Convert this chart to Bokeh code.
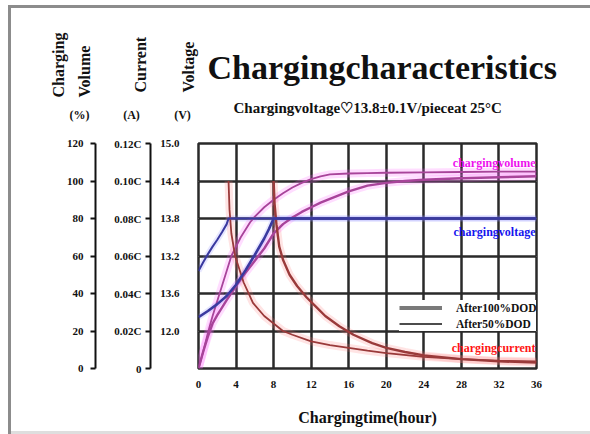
import math
from bokeh.plotting import figure
from bokeh.layouts import column
from bokeh.models import Range1d, LinearAxis, FixedTicker, Grid, Label, Legend, LegendItem
from bokeh.core.properties import value
from bokeh.embed import file_html
from bokeh.resources import INLINE

# ---------------- data ----------------
hour_ticks = [0, 4, 8, 12, 16, 20, 24, 28, 32, 36]
volume_ticks = [0, 20, 40, 60, 80, 100, 120]
volume_tick_labels = ["0", "20", "40", "60", "80", "100", "120"]
current_ticks = [0, 0.02, 0.04, 0.06, 0.08, 0.10, 0.12]
current_tick_labels = ["0", "0.02C", "0.04C", "0.06C", "0.08C", "0.10C", "0.12C"]
voltage_ticks = [12.0, 12.6, 13.2, 13.8, 14.4, 15.0]
voltage_tick_labels = ["12.0", "13.6", "13.2", "13.8", "14.4", "15.0"]

# charging volume (%)
hours_vol50 = [0, 0.5, 1, 1.5, 2, 2.5, 3, 3.5, 4, 4.5, 5, 5.5, 6, 7, 8, 9, 10, 11, 12, 13, 14, 16, 18, 20, 24, 28, 32, 36]
vol50 = [0, 9, 19, 28, 36, 44, 52, 60, 65, 70, 74, 78, 81, 86, 90, 93.5, 96.5, 99, 101, 102.5, 103.5, 104, 104.2, 104.4, 104.6, 104.8, 105, 105]
hours_vol100 = [0, 0.5, 1, 1.5, 2, 3, 4, 5, 6, 7, 8, 9, 10, 11, 12, 13, 14, 16, 18, 20, 22, 24, 28, 32, 36]
vol100 = [0, 9, 17, 24, 28.5, 36.5, 44, 51, 57.5, 64, 72, 77, 80.5, 83.5, 86, 88.5, 90.5, 94.5, 97.5, 99, 100, 100.7, 101.5, 102, 102.5]

# charging voltage (V)
hours_volt50 = [0, 0.5, 1, 1.5, 2, 2.5, 3, 3.2, 36]
volt50 = [12.96, 13.1, 13.23, 13.35, 13.46, 13.58, 13.71, 13.8, 13.8]
hours_volt100 = [0, 1, 2, 3, 4, 5, 6, 7, 7.5, 8, 36]
volt100 = [12.22, 12.32, 12.43, 12.56, 12.74, 12.97, 13.22, 13.48, 13.63, 13.8, 13.8]

# charging current (C), from the end of the constant-current phase
hours_cur50 = [3.2, 3.3, 3.5, 3.9, 4.8, 5.8, 7, 8, 9, 10, 12, 14, 16, 18, 20, 24, 28, 32, 36]
cur50 = [0.10, 0.085, 0.072, 0.060, 0.046, 0.035, 0.028, 0.024, 0.020, 0.018, 0.0145, 0.0125, 0.011, 0.0095, 0.0082, 0.0062, 0.005, 0.0042, 0.0038]
hours_cur100 = [8.0, 8.1, 8.3, 8.6, 9.0, 9.7, 10.5, 11.5, 12.5, 13.5, 15, 16.5, 18.5, 20, 22, 24, 28, 32, 36]
cur100 = [0.10, 0.088, 0.077, 0.065, 0.058, 0.050, 0.044, 0.038, 0.033, 0.028, 0.0225, 0.018, 0.0135, 0.011, 0.0088, 0.007, 0.005, 0.0038, 0.0032]

SERIF = "Liberation Serif"
TOP_H = 128


def no_align(fig):
    try:
        fig.frame_align = False
    except Exception:
        pass


# ---------------- header figure (titles) ----------------
top = figure(width=590, height=TOP_H, x_range=Range1d(0, 590), y_range=Range1d(TOP_H, 0),
             output_backend="svg", toolbar_location=None, min_border=0,
             x_axis_location=None, y_axis_location=None)
no_align(top)
top.grid.visible = False
top.outline_line_color = None
top.background_fill_color = None
top.border_fill_color = None

top.text(x=[207], y=[67], text=["Chargingcharacteristics"], text_font=value(SERIF),
         text_font_style="bold", text_font_size=value("34px"), text_color="#111111",
         text_baseline="middle", text_align="left")
top.text(x=[233], y=[107], text=["Chargingvoltage\u266113.8\u00b10.1V/pieceat 25\u00b0C"],
         text_font=value(SERIF), text_font_style="bold", text_font_size=value("15px"),
         text_color="#111111", text_baseline="middle", text_align="left")
top.text(x=[58, 84, 140, 188], y=[97, 97, 92, 92], text=["Charging", "Volume", "Current", "Voltage"],
         angle=math.pi / 2, text_font=value(SERIF), text_font_style="bold",
         text_font_size=value("16px"), text_color="#111111",
         text_baseline="middle", text_align="left")
top.text(x=[79, 131, 182], y=[114, 114, 114], text=["(%)", "(A)", "(V)"],
         text_font=value(SERIF), text_font_style="bold", text_font_size=value("12px"),
         text_color="#111111", text_baseline="middle", text_align="center")

# ---------------- main figure ----------------
p = figure(width=590, height=434 - TOP_H, x_range=Range1d(0, 36), y_range=Range1d(0, 120),
           output_backend="svg", toolbar_location=None, y_axis_location=None,
           min_border_left=198, min_border_right=54, min_border_top=143 - TOP_H, min_border_bottom=66)
no_align(p)
p.extra_y_ranges = {"cur": Range1d(0, 0.12), "volt": Range1d(11.4, 15.0)}
p.background_fill_color = "white"
p.border_fill_color = None
p.outline_line_color = "#2a2a2a"
p.outline_line_width = 2.5

# grid
p.xgrid.ticker = FixedTicker(ticks=hour_ticks)
p.xgrid.grid_line_color = "#2a2a2a"
p.xgrid.grid_line_width = 2.5
yg = Grid(dimension=1, ticker=FixedTicker(ticks=volume_ticks),
          grid_line_color="#2a2a2a", grid_line_width=2.5)
p.add_layout(yg)

# x axis
xa = p.xaxis[0]
xa.ticker = FixedTicker(ticks=hour_ticks)
xa.axis_line_color = None
xa.major_tick_line_color = None
xa.minor_tick_line_color = None
xa.major_tick_out = 0
xa.major_tick_in = 0
xa.major_label_standoff = 12
xa.major_label_text_font = SERIF
xa.major_label_text_font_style = "bold"
xa.major_label_text_font_size = "11px"
xa.major_label_text_color = "#111111"
xa.axis_label = "Chargingtime(hour)"
xa.axis_label_text_font = SERIF
xa.axis_label_text_font_style = "bold"
xa.axis_label_text_font_size = "16px"
xa.axis_label_text_color = "#111111"
xa.axis_label_standoff = 18


def style_left(ax):
    ax.major_label_text_font = SERIF
    ax.major_label_text_font_style = "bold"
    ax.major_label_text_font_size = "11px"
    ax.major_label_text_color = "#111111"
    ax.minor_tick_line_color = None


va = LinearAxis(y_range_name="volt", ticker=FixedTicker(ticks=voltage_ticks),
                major_label_overrides=dict(zip(voltage_ticks, voltage_tick_labels)))
style_left(va)
va.axis_line_color = None
va.major_tick_line_color = None
va.major_tick_out = 0
va.major_tick_in = 0
va.major_label_standoff = 19
va.axis_label = " "
va.axis_label_standoff = 3
va.axis_label_text_font_size = "1px"

ca = LinearAxis(y_range_name="cur", ticker=FixedTicker(ticks=current_ticks),
                major_label_overrides=dict(zip(current_ticks, current_tick_labels)))
style_left(ca)
ca.axis_line_color = "#111111"
ca.axis_line_width = 2
ca.major_tick_line_color = "#111111"
ca.major_tick_line_width = 2
ca.major_tick_out = 5
ca.major_tick_in = 0
ca.major_label_standoff = 4
ca.axis_label = " "
ca.axis_label_standoff = 12
ca.axis_label_text_font_size = "1px"

vola = LinearAxis(ticker=FixedTicker(ticks=volume_ticks),
                  major_label_overrides=dict(zip(volume_ticks, volume_tick_labels)))
style_left(vola)
vola.axis_line_color = "#111111"
vola.axis_line_width = 2
vola.major_tick_line_color = "#111111"
vola.major_tick_line_width = 2
vola.major_tick_out = 5
vola.major_tick_in = 0
vola.major_label_standoff = 7

p.add_layout(va, "left")
p.add_layout(ca, "left")
p.add_layout(vola, "left")

# ---------------- curves ----------------
# glows
p.line(hours_vol50, vol50, line_color="#ff66ff", line_alpha=0.22, line_width=8)
p.line(hours_vol100, vol100, line_color="#ff66ff", line_alpha=0.22, line_width=8)
p.line(hours_cur50, cur50, y_range_name="cur", line_color="#ff7777", line_alpha=0.2, line_width=8)
p.line(hours_cur100, cur100, y_range_name="cur", line_color="#ff7777", line_alpha=0.2, line_width=8)
p.line(hours_volt50, volt50, y_range_name="volt", line_color="#8888ff", line_alpha=0.2, line_width=6)
p.line(hours_volt100, volt100, y_range_name="volt", line_color="#8888ff", line_alpha=0.2, line_width=6)

# lines
p.line(hours_vol100, vol100, line_color="#a8449a", line_width=2.4)
p.line(hours_vol50, vol50, line_color="#a8449a", line_width=1.8)
p.line(hours_cur100, cur100, y_range_name="cur", line_color="#9a3a3a", line_width=2.4)
p.line(hours_cur50, cur50, y_range_name="cur", line_color="#9a3a3a", line_width=1.8)
p.line(hours_volt100, volt100, y_range_name="volt", line_color="#3a3aa0", line_width=2.6)
p.line(hours_volt50, volt50, y_range_name="volt", line_color="#3a3aa0", line_width=2.0)

# legend (style samples only)
nan = float("nan")
r100 = p.line([nan], [nan], line_color="#7a7a7a", line_width=4)
r50 = p.line([nan], [nan], line_color="#111111", line_width=1.5)
legend = Legend(items=[LegendItem(label="After100%DOD", renderers=[r100]),
                       LegendItem(label="After50%DOD", renderers=[r50])],
                location=(201, 37), orientation="vertical",
                label_text_font=SERIF, label_text_font_style="bold", label_text_font_size="11.5px",
                label_text_color="#111111",
                glyph_width=43, glyph_height=15, label_height=15, label_standoff=14,
                padding=1, spacing=1, margin=0,
                border_line_color=None, background_fill_color="white", background_fill_alpha=1.0)
p.add_layout(legend)


# ---------------- series names ----------------
def fx(px):  # page pixel -> hours
    return (px - 198) * 36 / 338


def fy(py):  # page pixel -> volume %
    return (368 - py) * 120 / 225


for s, ypix, col in [("chargingvolume", 162, "#ee11ee"),
                     ("chargingvoltage", 231, "#1515ee"),
                     ("chargingcurrent", 347, "#ff1515")]:
    p.add_layout(Label(x=fx(535), y=fy(ypix), text=s, text_font=SERIF, text_font_style="bold",
                       text_font_size="12px", text_color=col, text_align="right",
                       text_baseline="middle"))

layout = column(top, p, spacing=0,
                styles={"box-shadow": "inset 8px 5px 0 0 #ffffff, inset 11px 8px 0 0 #8c8c8c, "
                                      "inset 0 -3px 0 0 #dedede",
                        "background-color": "#ffffff"})
open("out.html", "w").write(file_html(layout, INLINE))
